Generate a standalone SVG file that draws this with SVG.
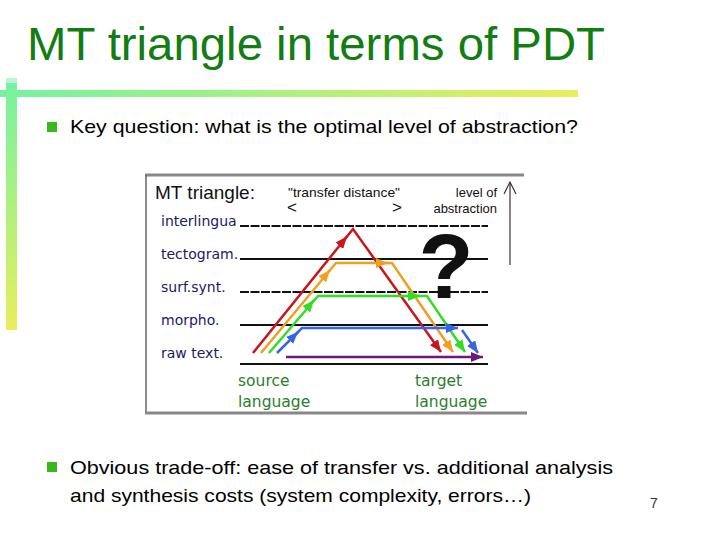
<svg xmlns="http://www.w3.org/2000/svg" width="720" height="540" viewBox="0 0 720 540">
<defs>
<linearGradient id="hbar" x1="0" y1="0" x2="1" y2="0">
<stop offset="0" stop-color="#74f2a2"/>
<stop offset="1" stop-color="#e8ee5c"/>
</linearGradient>
<linearGradient id="vbar" x1="0" y1="0" x2="0" y2="1">
<stop offset="0" stop-color="#74f2a2"/>
<stop offset="1" stop-color="#e8ee5c"/>
</linearGradient>
<marker id="aR" markerUnits="userSpaceOnUse" markerWidth="12" markerHeight="10" viewBox="0 0 12 10" refX="12" refY="5" orient="auto"><path d="M0,0 L12,5 L0,10 z" fill="#c8161e"/></marker>
<marker id="aO" markerUnits="userSpaceOnUse" markerWidth="12" markerHeight="10" viewBox="0 0 12 10" refX="12" refY="5" orient="auto"><path d="M0,0 L12,5 L0,10 z" fill="#f0a020"/></marker>
<marker id="aG" markerUnits="userSpaceOnUse" markerWidth="12" markerHeight="10" viewBox="0 0 12 10" refX="12" refY="5" orient="auto"><path d="M0,0 L12,5 L0,10 z" fill="#33dd22"/></marker>
<marker id="aB" markerUnits="userSpaceOnUse" markerWidth="12" markerHeight="10" viewBox="0 0 12 10" refX="12" refY="5" orient="auto"><path d="M0,0 L12,5 L0,10 z" fill="#3366e6"/></marker>
<marker id="aP" markerUnits="userSpaceOnUse" markerWidth="12" markerHeight="10" viewBox="0 0 12 10" refX="12" refY="5" orient="auto"><path d="M0,0 L12,5 L0,10 z" fill="#6a1b7a"/></marker>
</defs>
<style>
.slide{font-family:"Comic Sans MS","Liberation Sans",sans-serif;}
.title{font-size:46px;fill:#137d13;}
.body{font-size:19px;fill:#000;}
.bullet{fill:#38b81c;}
.lvl{font-family:"DejaVu Sans","Liberation Sans",sans-serif;font-size:14px;fill:#1a1a66;}
.lang{font-family:"DejaVu Sans","Liberation Sans",sans-serif;font-size:15.5px;fill:#2d7d2d;}
.hdr{font-family:"Liberation Sans",Arial,sans-serif;fill:#111;}
.lline{stroke:#111;stroke-width:2;fill:none;}
.dash{stroke-dasharray:9 1.5;}
.conn{fill:none;stroke-width:2.5;stroke-linejoin:miter;}
.red{stroke:#c8161e;}
.org{stroke:#f0a020;}
.grn{stroke:#33dd22;}
.blu{stroke:#3366e6;}
.pur{stroke:#6a1b7a;}
</style>
<rect width="720" height="540" fill="#fff"/>
<g id="decor">
<rect x="0" y="90" width="578" height="7" fill="url(#hbar)"/>
<rect x="6" y="78" width="11" height="252" fill="url(#vbar)"/>
<rect x="6" y="78" width="11" height="5" fill="#b8f8d0"/>
</g>
<g id="title" class="slide"><text class="title" x="27" y="60" textLength="578" lengthAdjust="spacingAndGlyphs">MT triangle in terms of PDT</text></g>
<g id="bullet1" class="slide">
<rect class="bullet" x="47" y="122" width="10" height="10"/>
<text class="body" x="70" y="133" textLength="508" lengthAdjust="spacingAndGlyphs">Key question: what is the optimal level of abstraction?</text>
</g>
<g id="diagram">
<rect x="146" y="175" width="381" height="239" fill="#fff"/>
<line x1="145" y1="175" x2="524" y2="175" stroke="#888" stroke-width="3"/>
<line x1="146" y1="175" x2="146" y2="414" stroke="#666" stroke-width="1.5"/>
<line x1="145" y1="413" x2="527" y2="413" stroke="#888" stroke-width="3"/>
<text class="hdr" x="155" y="199" font-size="19">MT triangle:</text>
<text class="hdr" x="288" y="197" font-size="13" textLength="112" lengthAdjust="spacingAndGlyphs">"transfer distance"</text>
<text class="hdr" x="287" y="213" font-size="17" fill="#333">&lt;</text>
<text class="hdr" x="392" y="213" font-size="17" fill="#333">&gt;</text>
<text class="hdr" x="497" y="197" font-size="13" text-anchor="end">level of</text>
<text class="hdr" x="497" y="213" font-size="13" text-anchor="end">abstraction</text>
<g id="abstraction-axis" stroke="#333" stroke-width="1.2" fill="none">
<line x1="510" y1="183" x2="510" y2="265"/>
<polyline points="504,194 510,182 516,194"/>
</g>
<g id="levels">
<g id="interlingua"><text class="lvl" x="161" y="226">interlingua</text><line class="lline dash" x1="240" y1="226" x2="488" y2="226"/></g>
<g id="tectogram"><text class="lvl" x="161" y="259">tectogram.</text><line class="lline" x1="240" y1="259" x2="488" y2="259"/></g>
<g id="surfsynt"><text class="lvl" x="161" y="292">surf.synt.</text><line class="lline dash" x1="240" y1="292" x2="488" y2="292"/></g>
<g id="morpho"><text class="lvl" x="161" y="325">morpho.</text><line class="lline" x1="240" y1="325" x2="488" y2="325"/></g>
<g id="rawtext"><text class="lvl" x="161" y="358">raw text.</text><line class="lline" x1="240" y1="364" x2="488" y2="364"/></g>
</g>
<g id="question"><text class="hdr" x="446" y="298" font-size="90" font-weight="bold" text-anchor="middle" fill="#000">?</text></g>
<g id="connectors">
<path class="conn red" d="M253,353 L353,229 L441,352" marker-end="url(#aR)"/>
<path class="conn red" d="M342,242.5 L347,236.5" marker-end="url(#aR)"/>
<path class="conn org" d="M261,353 L336,263 L392,263 L453,352" marker-end="url(#aO)"/>
<path class="conn org" d="M325,276 L330,270" marker-end="url(#aO)"/>
<path class="conn org" d="M378,263 L388,263" marker-end="url(#aO)"/>
<path class="conn grn" d="M269,353 L318,296 L427,296 L465,352" marker-end="url(#aG)"/>
<path class="conn grn" d="M309,306 L314,300" marker-end="url(#aG)"/>
<path class="conn grn" d="M410,296 L420,296" marker-end="url(#aG)"/>
<path class="conn blu" d="M277,353 L302,328 L458,328" marker-end="url(#aB)"/>
<path class="conn blu" d="M293,337 L298,332" marker-end="url(#aB)"/>
<path class="conn blu" d="M462,330 L478,353" marker-end="url(#aB)"/>
<path class="conn pur" d="M286,357 L483,357" marker-end="url(#aP)"/>
</g>
<g id="source"><text class="lang" x="238" y="386">source</text><text class="lang" x="238" y="407">language</text></g>
<g id="target"><text class="lang" x="415" y="386">target</text><text class="lang" x="415" y="407">language</text></g>
</g>
<g id="bullet2" class="slide">
<rect class="bullet" x="47" y="462" width="10" height="10"/>
<text class="body" x="70" y="474" textLength="543" lengthAdjust="spacingAndGlyphs">Obvious trade-off: ease of transfer vs. additional analysis</text>
<text class="body" x="70" y="502" textLength="461" lengthAdjust="spacingAndGlyphs">and synthesis costs (system complexity, errors…)</text>
</g>
<g id="pagenum" class="slide"><text x="650" y="508" font-size="14" fill="#333">7</text></g>
</svg>
